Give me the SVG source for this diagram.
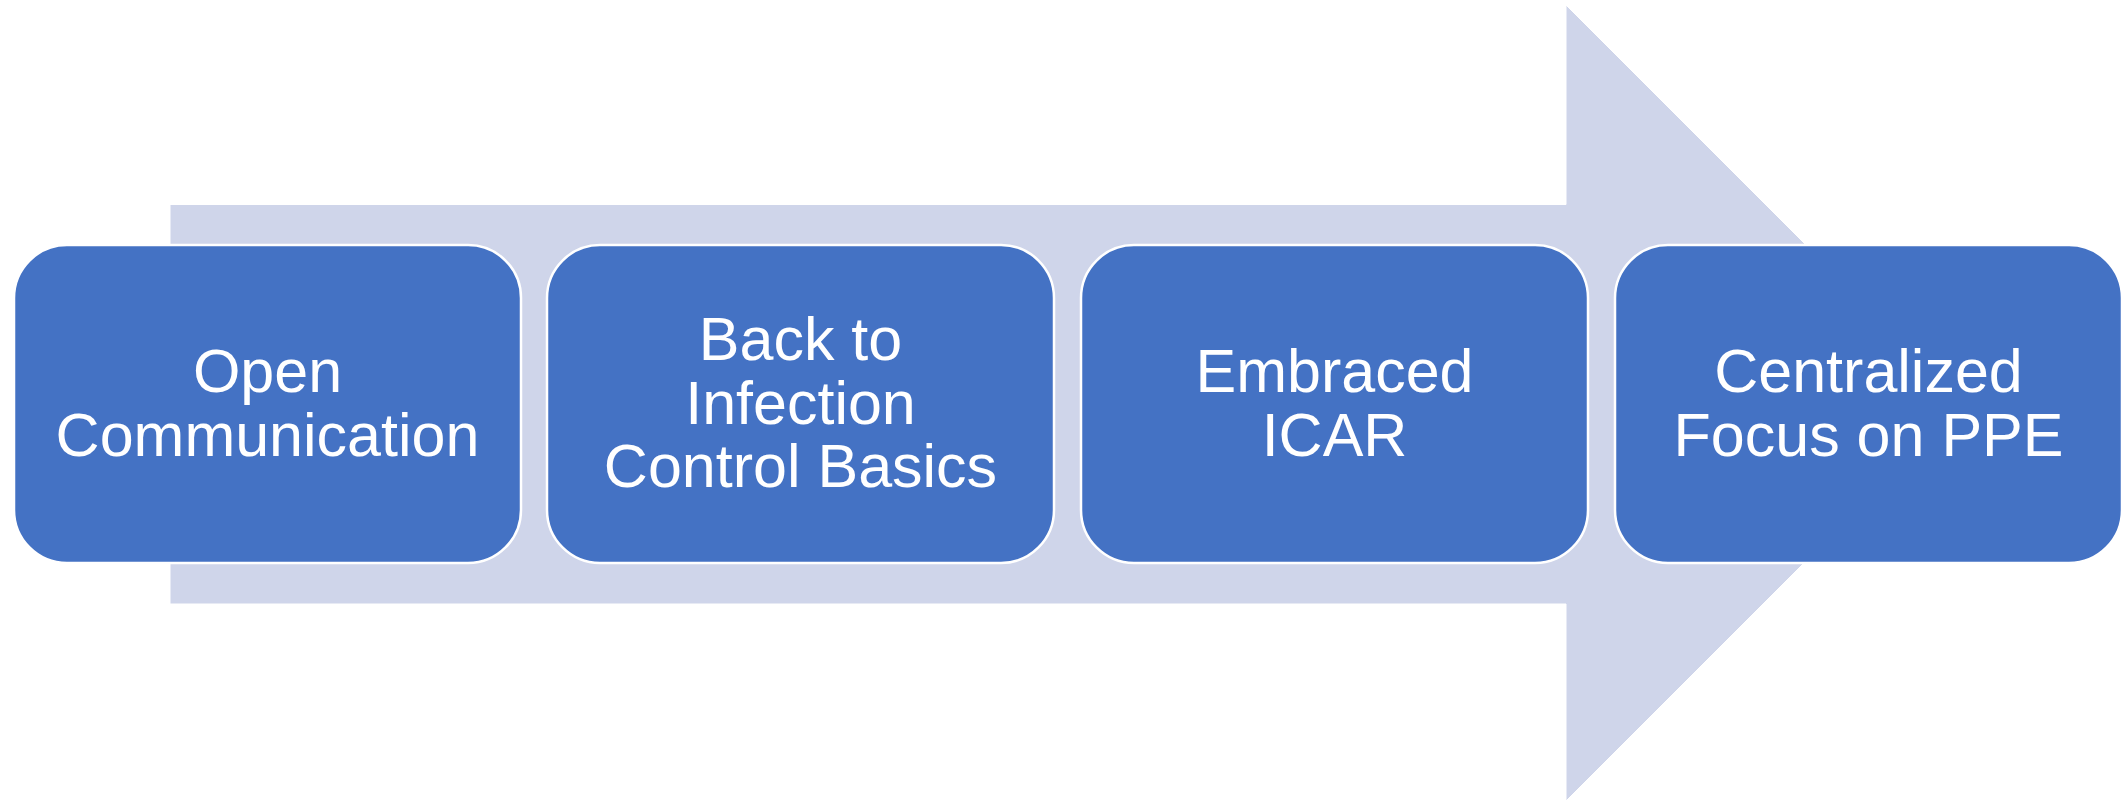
<svg xmlns="http://www.w3.org/2000/svg" width="2121" height="801" viewBox="0 0 2121 801">
  <style>
    .arrow { fill: #CFD5EA; stroke: #FFFFFF; stroke-width: 1; }
    .step { fill: #4472C4; stroke: #FFFFFF; stroke-width: 2.5; }
    .label { fill: #FFFFFF; font-family: "Liberation Sans", Arial, sans-serif; font-size: 61px; text-anchor: middle; }
  </style>
  <rect width="2121" height="801" fill="#FFFFFF"/>

  <!-- background block arrow -->
  <g id="connectors">
    <polygon class="arrow" points="170,204.5 1566,204.5 1566,5 1964,403 1566,801 1566,604 170,604"/>
  </g>

  <!-- process steps -->
  <g id="step-open-communication">
    <rect class="step" x="14" y="245" width="507" height="318" rx="53" ry="53"/>
    <text class="label" x="267.5" y="392">Open</text>
    <text class="label" x="267.5" y="455.5">Communication</text>
  </g>

  <g id="step-infection-control">
    <rect class="step" x="547" y="245" width="507" height="318" rx="53" ry="53"/>
    <text class="label" x="800.5" y="360">Back to</text>
    <text class="label" x="800.5" y="423.5">Infection</text>
    <text class="label" x="800.5" y="487">Control Basics</text>
  </g>

  <g id="step-embraced-icar">
    <rect class="step" x="1081" y="245" width="507" height="318" rx="53" ry="53"/>
    <text class="label" x="1334.5" y="392">Embraced</text>
    <text class="label" x="1334.5" y="455.5">ICAR</text>
  </g>

  <g id="step-centralized-ppe">
    <rect class="step" x="1615" y="245" width="507" height="318" rx="53" ry="53"/>
    <text class="label" x="1868.5" y="392">Centralized</text>
    <text class="label" x="1868.5" y="455.5">Focus on PPE</text>
  </g>
</svg>
